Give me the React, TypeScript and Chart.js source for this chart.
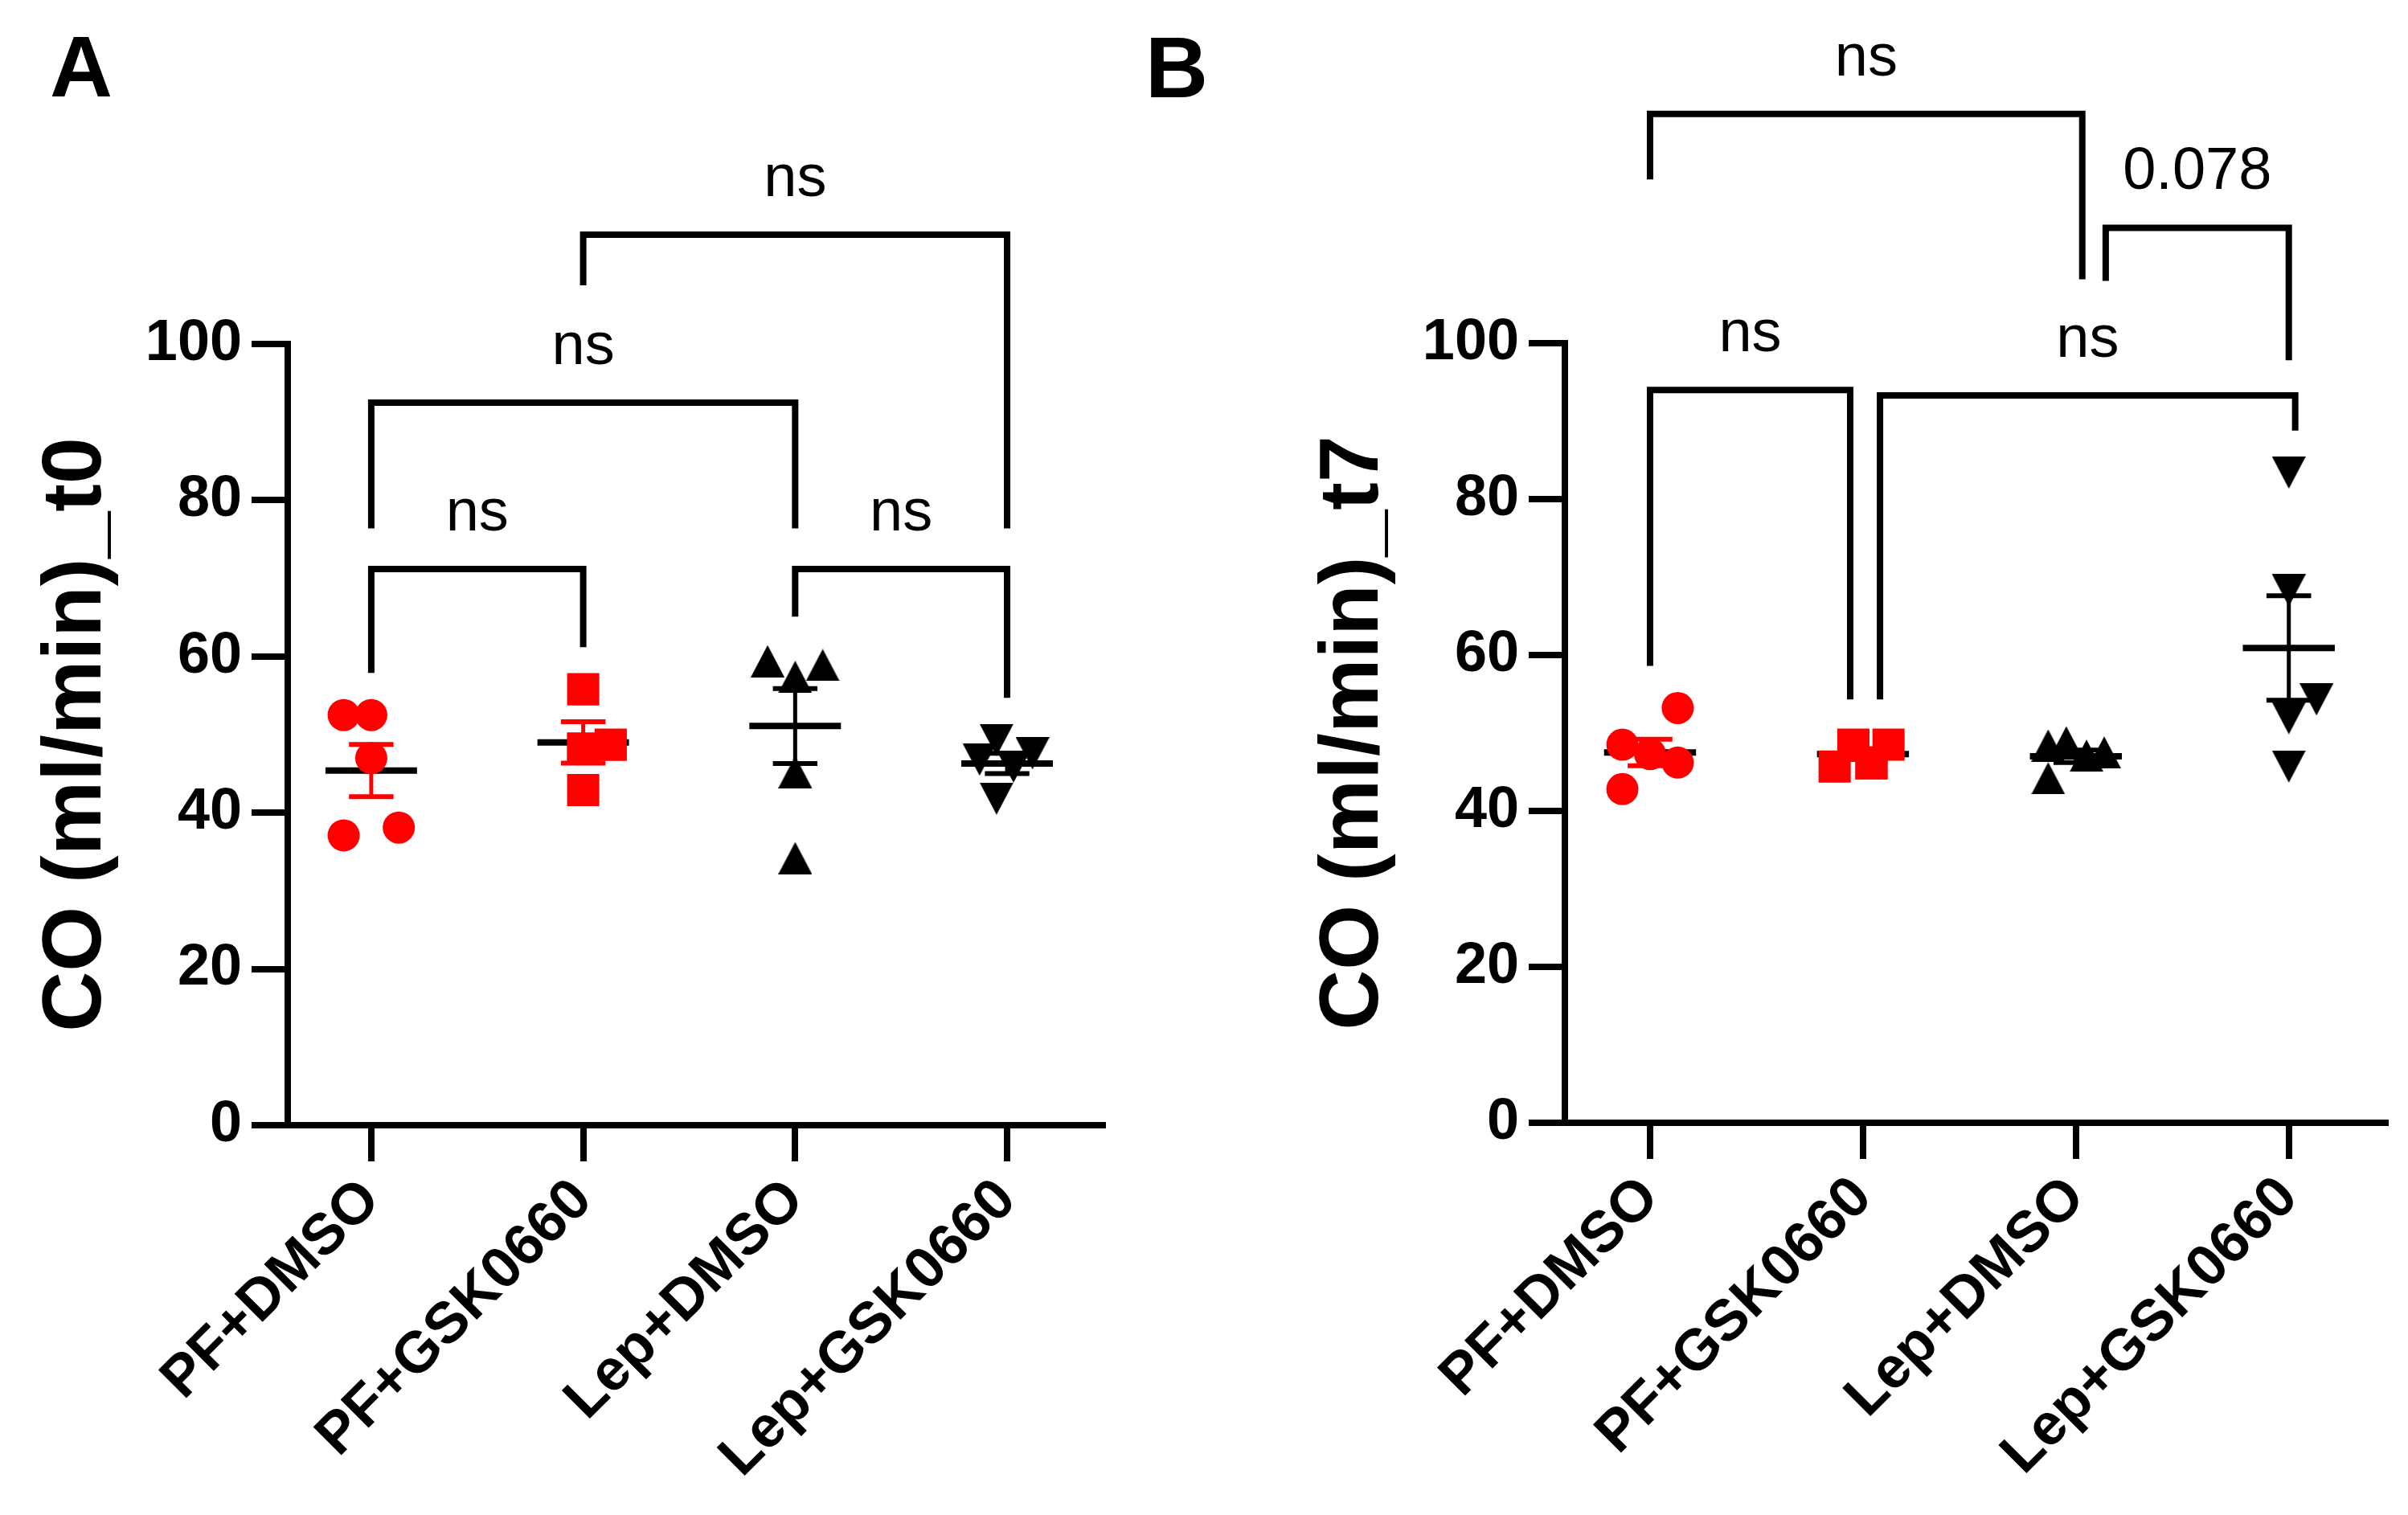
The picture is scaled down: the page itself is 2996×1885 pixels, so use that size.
import React, { useEffect, useRef } from 'react';
import { Chart, registerables } from 'chart.js';

Chart.register(...registerables);

const FONT = '"Liberation Sans", Arial, sans-serif';

const categories = ['PF+DMSO', 'PF+GSK0660', 'Lep+DMSO', 'Lep+GSK0660'];
const yTickValues = [0, 20, 40, 60, 80, 100];

// ---------- Panel A (t0) ----------
const aPfDmso = [52.5, 52.5, 47.0, 37.1, 38.1];
const aPfDmsoJitter = [-0.13, 0, 0, -0.13, 0.13];
const aPfGsk = [55.8, 48.2, 48.7, 42.9, 48.2];
const aPfGskJitter = [0, 0, 0.13, 0, 0];
const aLepDmso = [59.4, 58.9, 57.4, 45.2, 34.2];
const aLepDmsoJitter = [-0.13, 0.13, 0, 0, 0];
const aLepGsk = [49.3, 46.8, 47.6, 45.9, 41.8];
const aLepGskJitter = [-0.05, -0.13, 0.12, 0.03, -0.05];
const aMeans = [45.4, 49.0, 51.1, 46.3];
const aSems = [3.35, 2.65, 4.8, 1.3];

const aBracketFrom = [0, 0, 2, 1];
const aBracketTo = [1, 2, 3, 3];
const aBracketBar = [71.2, 92.5, 71.2, 114.0];
const aBracketLeftEnd = [57.9, 76.4, 65.1, 107.5];
const aBracketRightEnd = [61.2, 76.4, 54.7, 76.4];
const aBracketLabels = ['ns', 'ns', 'ns', 'ns'];

// ---------- Panel B (t7) ----------
const bPfDmso = [53.2, 48.5, 47.3, 46.2, 42.8];
const bPfDmsoJitter = [0.13, -0.13, 0, 0.13, -0.13];
const bPfGsk = [48.5, 48.5, 45.7, 46.1, 46.1];
const bPfGskJitter = [-0.045, 0.12, -0.133, 0.04, 0.04];
const bLepDmso = [44.2, 48.4, 48.8, 47.1, 47.5];
const bLepDmsoJitter = [-0.13, -0.13, -0.045, 0.05, 0.133];
const bLepGsk = [83.4, 68.3, 54.3, 51.9, 45.7];
const bLepGskJitter = [0, 0, 0.13, 0, 0];
const bMeans = [47.5, 47.3, 47.0, 60.9];
const bSems = [1.7, 0.7, 0.8, 6.7];

const bBracketFrom = [0, 2.14, 0, 1.08];
const bBracketTo = [2.03, 3, 0.94, 3.03];
const bBracketBar = [129.4, 114.8, 94.0, 93.3];
const bBracketLeftEnd = [121.0, 108.0, 58.6, 54.3];
const bBracketRightEnd = [108.2, 97.8, 54.3, 88.8];
const bBracketLabels = ['ns', '0.078', 'ns', 'ns'];

const RED = '#ff0000';
const BLACK = '#000000';

function makeTriangle(down: boolean): HTMLCanvasElement {
  const c = document.createElement('canvas');
  c.width = 42;
  c.height = 40;
  const g = c.getContext('2d')!;
  g.fillStyle = BLACK;
  g.beginPath();
  if (!down) {
    g.moveTo(21, 0);
    g.lineTo(42, 40);
    g.lineTo(0, 40);
  } else {
    g.moveTo(0, 0);
    g.lineTo(42, 0);
    g.lineTo(21, 40);
  }
  g.closePath();
  g.fill();
  return c;
}

interface PanelCfg {
  title: string;
  letter: string;
  letterX: number;
  letterY: number;
  groups: { values: number[]; jitter: number[]; style: any; color: string; radius: number }[];
  means: number[];
  sems: number[];
  brFrom: number[];
  brTo: number[];
  brBar: number[];
  brLeft: number[];
  brRight: number[];
  brLabels: string[];
  padLeft: number;
  padRight: number;
  padTop: number;
  yWidth: number;
  xHeight: number;
  xMin: number;
  xMax: number;
}

function buildConfig(cfg: PanelCfg): any {
  const errColors = [RED, RED, BLACK, BLACK];
  const plugin = {
    id: 'panelDecor' + cfg.letter,
    beforeDatasetsDraw(chart: any) {
      const { ctx, scales } = chart;
      const x = scales.x;
      const y = scales.y;
      ctx.save();
      cfg.means.forEach((m, i) => {
        const cx = x.getPixelForValue(i);
        const top = y.getPixelForValue(m + cfg.sems[i]);
        const bot = y.getPixelForValue(m - cfg.sems[i]);
        const capL = x.getPixelForValue(i - 0.105);
        const capR = x.getPixelForValue(i + 0.105);
        ctx.strokeStyle = errColors[i];
        ctx.lineCap = 'butt';
        ctx.lineWidth = 5;
        ctx.beginPath();
        ctx.moveTo(cx, top);
        ctx.lineTo(cx, bot);
        ctx.stroke();
        ctx.lineWidth = 6;
        ctx.beginPath();
        ctx.moveTo(capL, top);
        ctx.lineTo(capR, top);
        ctx.moveTo(capL, bot);
        ctx.lineTo(capR, bot);
        ctx.stroke();
        const my = y.getPixelForValue(m);
        ctx.strokeStyle = BLACK;
        ctx.lineWidth = 8;
        ctx.beginPath();
        ctx.moveTo(x.getPixelForValue(i - 0.216), my);
        ctx.lineTo(x.getPixelForValue(i + 0.216), my);
        ctx.stroke();
      });
      ctx.restore();
    },
    afterDraw(chart: any) {
      const { ctx, scales } = chart;
      const x = scales.x;
      const y = scales.y;
      ctx.save();
      ctx.strokeStyle = BLACK;
      ctx.fillStyle = BLACK;
      ctx.lineWidth = 8;
      ctx.lineCap = 'butt';
      ctx.lineJoin = 'miter';
      cfg.brFrom.forEach((f, i) => {
        const xl = x.getPixelForValue(f);
        const xr = x.getPixelForValue(cfg.brTo[i]);
        const yb = y.getPixelForValue(cfg.brBar[i]);
        ctx.beginPath();
        ctx.moveTo(xl, y.getPixelForValue(cfg.brLeft[i]));
        ctx.lineTo(xl, yb);
        ctx.lineTo(xr, yb);
        ctx.lineTo(xr, y.getPixelForValue(cfg.brRight[i]));
        ctx.stroke();
        ctx.font = `74px ${FONT}`;
        ctx.textAlign = 'center';
        ctx.textBaseline = 'alphabetic';
        ctx.fillText(cfg.brLabels[i], (xl + xr) / 2, yb - 48);
      });
      ctx.font = `bold 108px ${FONT}`;
      ctx.textAlign = 'left';
      ctx.textBaseline = 'alphabetic';
      ctx.fillText(cfg.letter, cfg.letterX, cfg.letterY);
      ctx.restore();
    },
  };

  return {
    type: 'scatter',
    data: {
      datasets: cfg.groups.map((g, gi) => ({
        label: categories[gi],
        data: g.values.map((v, k) => ({ x: gi + g.jitter[k], y: v })),
        pointStyle: g.style,
        pointRadius: g.radius,
        pointHoverRadius: g.radius,
        backgroundColor: g.color,
        borderColor: g.color,
        borderWidth: 0,
        showLine: false,
        clip: false,
      })),
    },
    options: {
      responsive: false,
      animation: false,
      layout: { padding: { left: cfg.padLeft, right: cfg.padRight, top: cfg.padTop, bottom: 0 } },
      plugins: { legend: { display: false }, tooltip: { enabled: false } },
      scales: {
        x: {
          type: 'linear',
          min: cfg.xMin,
          max: cfg.xMax,
          afterBuildTicks: (axis: any) => {
            axis.ticks = categories.map((_, i) => ({ value: i }));
          },
          afterFit: (axis: any) => {
            axis.height = cfg.xHeight;
          },
          ticks: {
            autoSkip: false,
            minRotation: 45,
            maxRotation: 45,
            padding: 6,
            color: BLACK,
            font: { family: FONT, size: 72, weight: 'bold' },
            callback: (v: any) => categories[Math.round(Number(v))] ?? '',
          },
          grid: { display: true, drawOnChartArea: false, drawTicks: true, tickLength: 45, lineWidth: 8, color: BLACK },
          border: { display: true, width: 8, color: BLACK },
        },
        y: {
          type: 'linear',
          min: 0,
          max: 100,
          afterBuildTicks: (axis: any) => {
            axis.ticks = yTickValues.map((v) => ({ value: v }));
          },
          afterFit: (axis: any) => {
            axis.width = cfg.yWidth;
          },
          ticks: {
            padding: 12,
            color: BLACK,
            font: { family: FONT, size: 72, weight: 'bold' },
          },
          grid: { display: true, drawOnChartArea: false, drawTicks: true, tickLength: 45, lineWidth: 8, color: BLACK },
          border: { display: true, width: 8, color: BLACK },
          title: {
            display: true,
            text: cfg.title,
            color: BLACK,
            font: { family: FONT, size: 104, weight: 'bold' },
            padding: { top: 34, bottom: 0 },
          },
        },
      },
    },
    plugins: [plugin],
  };
}

export default function App() {
  const refA = useRef<HTMLCanvasElement>(null);
  const refB = useRef<HTMLCanvasElement>(null);

  useEffect(() => {
    document.body.style.margin = '0';
    const triUp = makeTriangle(false);
    const triDown = makeTriangle(true);

    const chartA = new Chart(
      refA.current!,
      buildConfig({
        title: 'CO (ml/min)_t0',
        letter: 'A',
        letterX: 62,
        letterY: 120,
        groups: [
          { values: aPfDmso, jitter: aPfDmsoJitter, style: 'circle', color: RED, radius: 20 },
          { values: aPfGsk, jitter: aPfGskJitter, style: 'rect', color: RED, radius: 28.3 },
          { values: aLepDmso, jitter: aLepDmsoJitter, style: triUp, color: BLACK, radius: 20 },
          { values: aLepGsk, jitter: aLepGskJitter, style: triDown, color: BLACK, radius: 20 },
        ],
        means: aMeans,
        sems: aSems,
        brFrom: aBracketFrom,
        brTo: aBracketTo,
        brBar: aBracketBar,
        brLeft: aBracketLeftEnd,
        brRight: aBracketRightEnd,
        brLabels: aBracketLabels,
        padLeft: 0,
        padRight: 17,
        padTop: 428,
        yWidth: 358,
        xHeight: 485,
        xMin: -0.394,
        xMax: 3.45,
      })
    );

    const chartB = new Chart(
      refB.current!,
      buildConfig({
        title: 'CO (ml/min)_t7',
        letter: 'B',
        letterX: 25,
        letterY: 121,
        groups: [
          { values: bPfDmso, jitter: bPfDmsoJitter, style: 'circle', color: RED, radius: 20 },
          { values: bPfGsk, jitter: bPfGskJitter, style: 'rect', color: RED, radius: 28.3 },
          { values: bLepDmso, jitter: bLepDmsoJitter, style: triUp, color: BLACK, radius: 20 },
          { values: bLepGsk, jitter: bLepGskJitter, style: triDown, color: BLACK, radius: 20 },
        ],
        means: bMeans,
        sems: bSems,
        brFrom: bBracketFrom,
        brTo: bBracketTo,
        brBar: bBracketBar,
        brLeft: bBracketLeftEnd,
        brRight: bBracketRightEnd,
        brLabels: bBracketLabels,
        padLeft: 189,
        padRight: 28,
        padTop: 427,
        yWidth: 358,
        xHeight: 488,
        xMin: -0.4,
        xMax: 3.453,
      })
    );

    return () => {
      chartA.destroy();
      chartB.destroy();
    };
  }, []);

  return (
    <div style={{ position: 'relative', width: 2996, height: 1885, background: '#ffffff' }}>
      <canvas
        ref={refA}
        width={1400}
        height={1885}
        style={{ position: 'absolute', left: 0, top: 0, width: 1400, height: 1885 }}
      />
      <canvas
        ref={refB}
        width={1596}
        height={1885}
        style={{ position: 'absolute', left: 1400, top: 0, width: 1596, height: 1885 }}
      />
    </div>
  );
}
